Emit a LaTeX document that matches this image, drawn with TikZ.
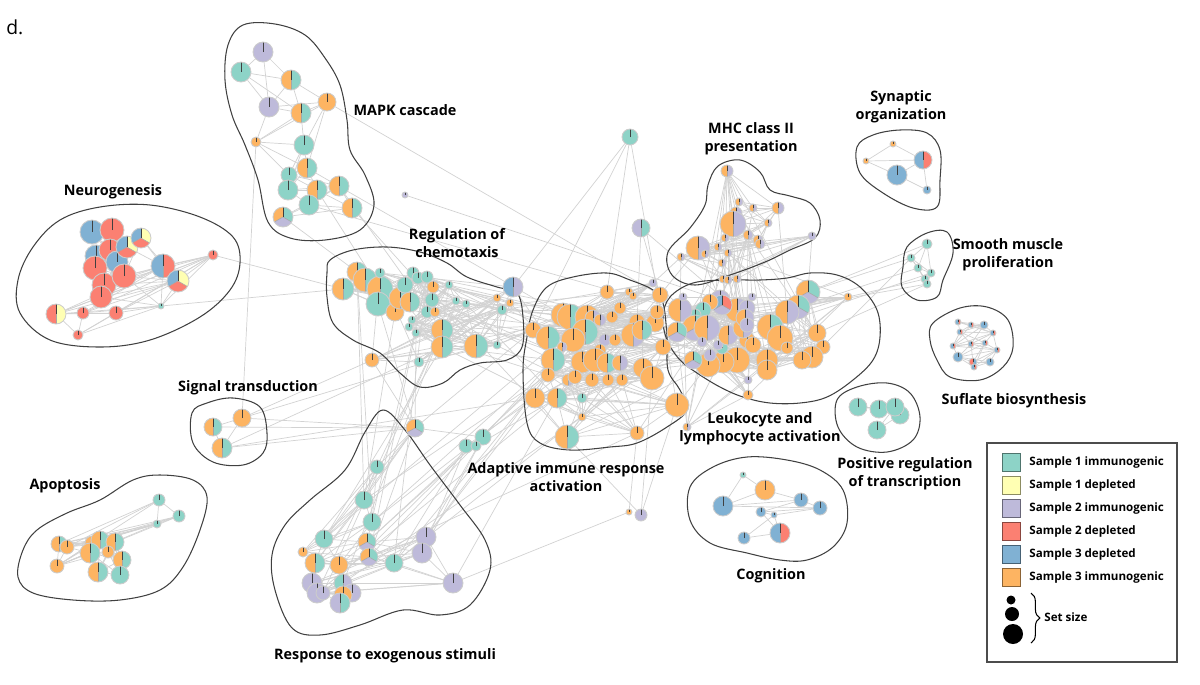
\documentclass[tikz,border=0pt]{standalone}
\usepackage{fontspec}
\setmainfont{Open Sans}
\usetikzlibrary{positioning, backgrounds, decorations.pathreplacing}
\definecolor{ct}{HTML}{8DD3C7}
\definecolor{cy}{HTML}{FFFFB3}
\definecolor{cl}{HTML}{BEBADA}
\definecolor{cr}{HTML}{FB8072}
\definecolor{cb}{HTML}{80B1D3}
\definecolor{co}{HTML}{FDB462}
\tikzstyle{pieshape} = [circle, inner sep=0pt, draw=none]
\tikzstyle{rim} = [draw=gray!40, line width=0.5pt]
\tikzstyle{tick} = [draw=black!75, line width=0.4pt]
\tikzstyle{divider} = [draw=gray!70, line width=0.3pt]
\tikzstyle{link} = [draw=gray!35, line width=0.4pt]
\tikzstyle{cluster} = [draw=black!75, line width=0.6pt]
\tikzstyle{tag} = [
	font=\bfseries\fontsize{8.2}{10.2}\selectfont,
	align=center,
	inner sep=0pt
]
\tikzstyle{legtext} = [font=\bfseries\fontsize{6.6}{8}\selectfont, inner sep=0pt]
\tikzstyle{swatch} = [rectangle, minimum size=0.36cm, inner sep=0pt]
\tikzstyle{dot} = [circle, fill=black, inner sep=0pt]

\def\nocol{x}
% pie chart node: name, x, y, radius (px), up to three colours (x = unused)
\newcommand{\pienode}[7]{%
	\pgfmathsetlengthmacro\pr{#4*0.02cm}%
	\node[pieshape, minimum size=2*\pr] (#1) at (#2,#3) {};
	\edef\pieb{#6}\edef\piec{#7}%
	\ifx\pieb\nocol
		\fill[fill=#5] (#1.center) circle[radius=\pr];
	\else
		\ifx\piec\nocol
			\fill[fill=#5] (#1.center) -- ++(90:\pr) arc[start angle=90, end angle=270, radius=\pr] -- cycle;
			\fill[fill=#6] (#1.center) -- ++(270:\pr) arc[start angle=-90, end angle=90, radius=\pr] -- cycle;
			\draw[divider] (#1.center) -- ++(270:\pr);
		\else
			\fill[fill=#5] (#1.center) -- ++(90:\pr) arc[start angle=90, end angle=210, radius=\pr] -- cycle;
			\fill[fill=#6] (#1.center) -- ++(210:\pr) arc[start angle=210, end angle=330, radius=\pr] -- cycle;
			\fill[fill=#7] (#1.center) -- ++(330:\pr) arc[start angle=330, end angle=450, radius=\pr] -- cycle;
			\draw[divider] (#1.center) -- ++(210:\pr) (#1.center) -- ++(330:\pr);
		\fi
	\fi
	\draw[tick] (#1.center) -- ++(90:\pr);
	\draw[rim] (#1.center) circle[radius=\pr];
}
% links inside one cluster: node i to nodes i+1 .. i+k
\newcommand{\meshlinks}[3]{%
	\foreach \i in {1,...,#2}{%
		\foreach \k in {1,...,#3}{%
			\pgfmathtruncatemacro\jj{\i+\k}%
			\ifnum\jj>#2\relax\else\draw[link] (#1\i) -- (#1\jj);\fi
		}}}
% links between two clusters
\newcommand{\bundlelinks}[5]{%
	\foreach \i in {1,...,#5}{%
		\pgfmathtruncatemacro\ua{mod(\i*7,#2)+1}%
		\pgfmathtruncatemacro\vb{mod(\i*11,#4)+1}%
		\draw[link] (#1\ua) -- (#3\vb);}}

\begin{document}
\begin{tikzpicture}[x=0.02cm, y=-0.02cm]

	\useasboundingbox (0,0) rectangle (1200,684);

	% cluster outlines
	\draw[cluster] plot[smooth cycle, tension=0.6] coordinates {(243,25) (275,24) (305,35) (325,58) (340,85) (347,120) (350,150) (365,175) (374,205) (360,230) (325,240) (290,238) (268,222) (258,180) (245,145) (232,115) (225,80) (228,45)};
	\draw[cluster] plot[smooth cycle, tension=0.6] coordinates {(100,207) (150,205) (200,217) (233,237) (240,263) (230,290) (200,317) (150,340) (100,347) (50,340) (20,313) (18,280) (33,247) (60,220)};
	\draw[cluster] plot[smooth cycle, tension=0.6] coordinates {(330,260) (353,250) (387,247) (420,252) (447,263) (467,277) (497,287) (517,293) (523,317) (522,347) (507,360) (480,363) (460,370) (443,383) (420,387) (400,373) (380,353) (353,340) (333,323) (327,297) (327,273)};
	\draw[cluster] plot[smooth cycle, tension=0.6] coordinates {(533,310) (547,287) (573,277) (607,273) (630,280) (653,290) (663,303) (667,337) (668,370) (680,390) (687,410) (667,427) (637,443) (610,447) (570,450) (540,443) (527,423) (523,370) (527,337)};
	\draw[cluster] plot[smooth cycle, tension=0.6] coordinates {(708,185) (718,166) (740,160) (760,172) (770,190) (790,196) (810,203) (820,220) (815,238) (790,250) (765,262) (730,275) (695,285) (672,275) (668,252) (690,228) (705,205)};
	\draw[cluster] plot[smooth cycle, tension=0.6] coordinates {(670,297) (693,283) (727,280) (760,280) (787,278) (810,273) (837,275) (860,287) (877,310) (880,337) (873,360) (853,380) (827,397) (800,403) (770,403) (743,397) (720,387) (697,373) (680,360) (667,340) (663,317)};
	\draw[cluster] plot[smooth cycle, tension=0.6] coordinates {(857,147) (873,135) (900,130) (927,133) (940,150) (940,180) (937,207) (913,208) (883,193) (860,173)};
	\draw[cluster] plot[smooth cycle, tension=0.6] coordinates {(903,267) (907,247) (927,233) (947,232) (953,253) (943,280) (937,297) (917,300) (902,287)};
	\draw[cluster] plot[smooth cycle, tension=0.6] coordinates {(933,323) (960,308) (987,307) (1008,320) (1013,347) (1003,367) (980,380) (950,377) (937,360) (930,340)};
	\draw[cluster] plot[smooth cycle, tension=0.6] coordinates {(837,400) (857,387) (887,383) (910,393) (920,417) (913,440) (887,452) (857,447) (838,427)};
	\draw[cluster] plot[smooth cycle, tension=0.6] coordinates {(690,487) (713,467) (747,457) (787,460) (820,470) (843,490) (847,523) (833,547) (807,560) (780,560) (747,553) (710,543) (690,520)};
	\draw[cluster] plot[smooth cycle, tension=0.6] coordinates {(192,413) (207,403) (233,398) (260,407) (267,433) (263,453) (243,465) (213,462) (193,443)};
	\draw[cluster] plot[smooth cycle, tension=0.6] coordinates {(23,550) (37,530) (67,513) (100,500) (133,480) (160,475) (193,480) (207,497) (200,530) (183,567) (160,590) (120,600) (73,600) (33,593) (18,577)};
	\draw[cluster] plot[smooth cycle, tension=0.6] coordinates {(383,410) (405,430) (430,465) (460,505) (485,540) (490,570) (470,605) (440,615) (403,610) (360,625) (320,635) (292,628) (275,590) (272,555) (285,525) (310,500) (345,470) (365,432)};

	% MAPK cascade
	\foreach \n/\x/\y/\rad/\fa/\fb/\fc in {
		mk1/263/52/10/cl/x/x, mk2/241/72/10/ct/x/x, mk3/291/80/10/co/ct/x, mk4/269/107/10/cl/x/x,
		mk5/301/113/10/co/ct/x, mk6/327/102/9/co/x/x, mk7/256/142/5/co/x/x, mk8/304/145/10/ct/x/x,
		mk9/307/168/10/co/ct/x, mk10/289/175/8/ct/x/x, mk11/288/190/10/ct/x/x, mk12/317/190/10/co/ct/x,
		mk13/339/186/10/co/ct/x, mk14/309/205/10/ct/x/x, mk15/352/208/10/co/ct/x, mk16/283/217/10/co/cl/ct}
		{\pienode{\n}{\x}{\y}{\rad}{\fa}{\fb}{\fc}}

	% Neurogenesis
	\foreach \n/\x/\y/\rad/\fa/\fb/\fc in {
		ng1/92/232/12/cb/x/x, ng2/112/230/12/cr/x/x, ng3/96/256/11/cb/x/x, ng4/110/250/11/cr/x/x,
		ng5/95/268/12/cr/x/x, ng6/117/262/11/cb/x/x, ng7/127/247/11/cb/cr/cy, ng8/141/238/10/cb/cr/cy,
		ng9/104/285/12/cr/x/x, ng10/124/276/12/cr/x/x, ng11/101/297/11/cr/x/x, ng12/163/266/12/cb/cr/x,
		ng13/178/281/11/cb/cr/cy, ng14/213/255/5/cr/x/x, ng15/161/306/3/ct/x/x, ng16/56/314/10/cr/cy/x,
		ng17/83/313/6/cr/x/x, ng18/116/313/7/cr/x/x, ng19/78/335/5/cr/x/x}
		{\pienode{\n}{\x}{\y}{\rad}{\fa}{\fb}{\fc}}

	% Regulation of chemotaxis
	\foreach \n/\x/\y/\rad/\fa/\fb/\fc in {
		ch1/357/272/10/co/ct/x, ch2/365/280/12/co/ct/x, ch3/343/289/11/co/ct/x, ch4/380/289/13/co/ct/x,
		ch5/378/304/12/ct/x/x, ch6/395/312/9/co/x/x, ch7/400/298/11/co/ct/x, ch8/410/302/10/co/ct/x,
		ch9/405/285/8/ct/x/x, ch10/413/273/6/ct/x/x, ch11/418/278/6/ct/x/x, ch12/427/277/6/ct/x/x,
		ch13/433/287/6/co/x/x, ch14/432/300/7/ct/x/x, ch15/427/312/6/ct/x/x, ch16/435/312/5/co/x/x,
		ch17/449/285/4/ct/x/x, ch18/456/301/4/ct/x/x, ch19/466/304/4/ct/x/x, ch20/412/320/4/ct/x/x,
		ch21/409/327/4/ct/x/x, ch22/416/333/4/ct/x/x, ch23/442/330/11/co/ct/x, ch24/442/347/11/co/ct/x,
		ch25/476/346/12/co/ct/x, ch26/497/345/4/ct/x/x, ch27/497/298/4/co/x/x, ch28/502/310/5/ct/x/x,
		ch29/510/303/4/co/x/x, ch30/380/273/5/ct/x/x, ch31/372/360/7/co/x/x, ch32/419/362/5/ct/x/x,
		ch33/513/287/10/cb/cl/x}
		{\pienode{\n}{\x}{\y}{\rad}{\fa}{\fb}{\fc}}

	% Adaptive immune response activation
	\foreach \n/\x/\y/\rad/\fa/\fb/\fc in {
		ad1/607/292/7/co/x/x, ad2/629/292/4/co/x/x, ad3/633/296/4/co/x/x, ad4/653/283/4/cl/x/x,
		ad5/660/295/8/co/x/x, ad6/563/315/12/co/x/x, ad7/570/317/13/co/ct/x, ad8/587/317/12/co/x/x,
		ad9/593/318/8/co/cl/x, ad10/600/320/6/co/cl/x, ad11/612/317/6/co/x/x, ad12/620/308/6/co/x/x,
		ad13/637/322/8/co/x/x, ad14/655/323/9/co/x/x, ad15/657/312/7/co/x/x, ad16/533/330/8/co/x/x,
		ad17/548/338/12/co/ct/x, ad18/585/332/13/co/ct/x, ad19/573/340/12/co/x/x, ad20/562/347/5/co/cl/x,
		ad21/605/340/6/cl/x/x, ad22/615/340/6/co/x/x, ad23/633/335/12/co/cl/x, ad24/642/330/10/co/ct/x,
		ad25/600/350/6/co/x/x, ad26/663/347/8/co/x/x, ad27/553/360/12/co/ct/x, ad28/582/362/11/co/x/x,
		ad29/595/360/12/co/x/x, ad30/607/363/10/co/ct/x, ad31/620/363/8/co/cl/x, ad32/643/368/10/co/x/x,
		ad33/652/378/12/co/x/x, ad34/548/375/7/co/x/x, ad35/568/380/6/co/cl/x, ad36/575/377/7/co/x/x,
		ad37/592/380/7/co/x/x, ad38/608/380/6/co/x/x, ad39/622/380/6/co/x/x, ad40/535/398/10/co/x/x,
		ad41/557/398/10/co/ct/x, ad42/582/398/5/ct/x/x, ad43/582/417/4/co/x/x, ad44/677/405/12/co/x/x,
		ad45/637/433/7/co/x/x, ad46/567/437/12/co/ct/x}
		{\pienode{\n}{\x}{\y}{\rad}{\fa}{\fb}{\fc}}

	% Leukocyte and lymphocyte activation
	\foreach \n/\x/\y/\rad/\fa/\fb/\fc in {
		lk1/808/292/12/co/cl/ct, lk2/798/307/12/co/cl/ct, lk3/787/312/12/co/cl/x, lk4/770/327/13/co/ct/x,
		lk5/780/338/13/co/x/x, lk6/817/333/9/co/x/x, lk7/823/347/7/co/x/x, lk8/812/357/11/co/x/x,
		lk9/802/360/9/co/x/x, lk10/787/348/6/co/x/x, lk11/767/360/11/co/x/x, lk12/767/370/10/co/x/x,
		lk13/737/360/13/co/x/x, lk14/723/362/11/co/x/x, lk15/708/365/12/co/x/x, lk16/693/360/9/co/cl/ct,
		lk17/710/355/6/cl/x/x, lk18/722/348/6/ct/x/x, lk19/718/345/5/cl/x/x, lk20/728/335/10/co/cl/x,
		lk21/747/340/8/co/x/x, lk22/753/345/8/co/x/x, lk23/743/328/10/co/cl/x, lk24/737/310/12/co/cl/x,
		lk25/747/308/8/cl/x/x, lk26/745/318/9/co/cl/x, lk27/747/325/7/cl/x/x, lk28/720/300/10/cl/x/x,
		lk29/722/305/10/cb/cl/cr, lk30/710/302/8/co/x/x, lk31/703/310/8/ct/x/x, lk32/695/315/6/ct/x/x,
		lk33/680/310/12/co/cl/x, lk34/695/328/13/co/cl/ct, lk35/707/328/13/co/cl/x, lk36/677/332/10/co/cl/ct,
		lk37/702/342/5/cl/x/x, lk38/752/297/4/cl/x/x, lk39/848/297/4/co/x/x, lk40/748/380/4/cl/x/x,
		lk41/748/395/5/co/x/x, lk42/683/297/4/cl/x/x, lk43/687/427/4/co/cl/x}
		{\pienode{\n}{\x}{\y}{\rad}{\fa}{\fb}{\fc}}

	% MHC class II presentation
	\foreach \n/\x/\y/\rad/\fa/\fb/\fc in {
		mh1/727/171/6/co/cl/x, mh2/739/202/4/co/cl/x, mh3/753/208/4/co/cl/x, mh4/778/208/6/co/cl/x,
		mh5/736/213/6/co/cl/x, mh6/733/224/13/co/cl/x, mh7/768/223/4/co/cl/x, mh8/748/235/5/co/cl/x,
		mh9/758/240/5/co/cl/x, mh10/760/244/5/co/cl/x, mh11/725/238/4/co/cl/x, mh12/718/247/4/co/cl/x,
		mh13/698/248/12/co/cl/x, mh14/705/254/4/co/cl/x, mh15/728/253/4/co/cl/x, mh16/722/263/4/co/cl/x,
		mh17/681/257/4/co/cl/x, mh18/812/236/4/cl/x/x, mh19/723/279/4/co/cl/x, mh20/728/280/4/co/cl/x,
		mh21/737/279/4/co/cl/x}
		{\pienode{\n}{\x}{\y}{\rad}{\fa}{\fb}{\fc}}

	% small clusters on the right
	\foreach \n/\x/\y/\rad/\fa/\fb/\fc in {
		sy1/893/144/3/co/x/x, sy2/866/161/3/co/x/x, sy3/923/160/9/cb/cr/x, sy4/897/175/10/cb/x/x, sy5/927/190/4/cb/x/x,
		sm1/927/244/5/ct/x/x, sm2/911/258/4/ct/x/x, sm3/918/268/4/ct/x/x, sm4/931/273/4/ct/x/x, sm5/925/279/4/ct/x/x, sm6/927/284/4/ct/x/x,
		sf1/958/322/3/cb/cr/x, sf2/971/325/3/cb/cr/x, sf3/984/325/4/cb/x/x, sf4/960/332/3/cb/cr/x,
		sf5/993/333/3/cb/cr/x, sf6/953/346/3/cb/cr/x, sf7/971/344/3/cb/cr/x, sf8/985/343/3/cb/cr/x,
		sf9/997/350/3/cb/cr/x, sf10/958/357/5/cb/x/x, sf11/973/362/4/cr/cb/x, sf12/974/367/3/cb/cr/x, sf13/990/362/4/cb/x/x,
		pr1/858/407/9/ct/x/x, pr2/879/409/9/ct/x/x, pr4/900/415/9/ct/x/x, pr3/895/407/9/ct/x/x, pr5/877/430/9/ct/x/x,
		cg1/743/475/3/ct/x/x, cg2/765/490/10/co/x/x, cg3/723/506/10/cb/x/x, cg4/801/500/7/cb/x/x, cg5/820/508/7/cb/x/x,
		cg6/761/512/5/cb/x/x, cg7/774/515/3/cb/x/x, cg8/780/533/10/cb/cr/x, cg9/744/538/6/cb/x/x}
		{\pienode{\n}{\x}{\y}{\rad}{\fa}{\fb}{\fc}}

	% Signal transduction, Apoptosis
	\foreach \n/\x/\y/\rad/\fa/\fb/\fc in {
		sg1/213/427/9/co/ct/x, sg2/242/418/9/co/x/x, sg3/222/448/10/co/ct/x,
		ap1/159/500/6/ct/x/x, ap2/179/516/6/ct/x/x, ap3/157/524/4/ct/x/x, ap4/59/544/8/co/ct/x,
		ap5/67/547/7/co/x/x, ap6/57/566/7/co/x/x, ap7/92/543/7/co/x/x, ap8/100/540/9/co/ct/x,
		ap9/115/542/9/co/ct/x, ap10/90/553/10/co/ct/x, ap11/108/552/6/co/x/x, ap12/122/560/9/co/ct/x,
		ap13/98/572/10/co/ct/x, ap14/120/575/9/ct/x/x}
		{\pienode{\n}{\x}{\y}{\rad}{\fa}{\fb}{\fc}}

	% Response to exogenous stimuli
	\foreach \n/\x/\y/\rad/\fa/\fb/\fc in {
		rs1/377/467/7/ct/x/x, rs2/364/500/9/ct/x/x, rs3/372/522/9/ct/x/x, rs4/324/539/9/ct/x/x,
		rs5/303/552/5/co/x/x, rs6/315/563/10/co/ct/x, rs7/339/565/9/co/x/x, rs8/367/542/9/co/cl/ct,
		rs9/369/557/9/co/cl/ct, rs10/394/563/9/ct/x/x, rs11/426/537/10/cl/x/x, rs12/422/553/10/cl/x/x,
		rs13/453/583/10/cl/x/x, rs14/312/583/10/cl/x/x, rs15/317/593/10/cl/x/x, rs16/323/593/7/cl/x/x,
		rs17/343/583/9/ct/cl/x, rs18/352/593/9/cl/x/x, rs19/343/595/9/co/x/x, rs20/340/603/10/cl/ct/x}
		{\pienode{\n}{\x}{\y}{\rad}{\fa}{\fb}{\fc}}

	% nodes between clusters
	\foreach \n/\x/\y/\rad/\fa/\fb/\fc in {
		bx1/415/428/9/co/cl/ct, bx2/466/446/7/ct/x/x, bx3/483/437/8/ct/x/x, bx4/476/446/5/ct/x/x,
		bx5/630/137/8/ct/x/x, bx6/641/228/9/cl/ct/x, bx7/405/195/3/cl/x/x, bx8/629/512/3/co/x/x,
		bx9/641/515/6/cl/x/x}
		{\pienode{\n}{\x}{\y}{\rad}{\fa}{\fb}{\fc}}

	% links
	\begin{pgfonlayer}{background}
		\meshlinks{mk}{16}{3}
		\meshlinks{ng}{19}{5}
		\meshlinks{ch}{33}{6}
		\meshlinks{ad}{46}{8}
		\meshlinks{lk}{43}{8}
		\meshlinks{mh}{21}{5}
		\meshlinks{sy}{5}{2}
		\meshlinks{sm}{6}{3}
		\meshlinks{sf}{13}{4}
		\meshlinks{pr}{5}{2}
		\meshlinks{cg}{9}{2}
		\meshlinks{sg}{3}{2}
		\meshlinks{ap}{14}{5}
		\meshlinks{rs}{20}{4}
		\bundlelinks{ad}{46}{lk}{43}{30}
		\bundlelinks{ch}{33}{ad}{46}{25}
		\bundlelinks{mh}{21}{lk}{43}{25}
		\bundlelinks{rs}{20}{ad}{46}{10}
		\bundlelinks{rs}{20}{ch}{33}{8}
		\foreach \a/\b in {ng14/ch3, ng15/ch3, mk6/ad5, mk15/ch25, mk13/ch23, mk12/ch4, mk7/sg2,
			mk16/ch1, mk9/ad6, mk14/lk33, bx5/ad1, bx5/ad44, bx5/ch33, bx5/ad16, bx6/ad5, bx6/lk24,
			bx6/ad13, bx7/lk28, sg2/ch31, sg2/ad16, sg3/ad40, sg1/bx1, sg3/bx1, sg2/bx1, sg3/ch24,
			bx1/ch5, bx1/ch22, bx1/ad16, bx1/ch31, bx1/rs1, bx1/rs2, bx1/rs4, bx1/rs6, bx1/rs9, bx1/bx3,
			bx2/ad40, bx3/ad27, bx4/ad41, bx2/rs10, bx3/rs11, bx3/rs12, rs2/ch6, rs4/ch24, rs8/bx3,
			rs9/bx3, rs11/ad40, rs13/ad41, rs10/ad34, rs12/bx2, rs3/ad27, rs13/bx8, ad44/lk15,
			ad32/lk16, ad26/lk36, ad14/lk33, ad33/bx9, ad45/bx8, ad46/bx9, ad44/bx9, lk1/sm1, lk1/sm2,
			lk2/sm3, lk4/sm4, lk39/sm5, lk6/sm6, lk2/sm6, lk8/sm2, lk1/mh18, lk24/mh6, lk28/mh13,
			lk33/mh17, lk20/mh19, lk23/mh20, lk26/mh21, lk3/mh4, mh13/ad5, mh17/ad4, ch25/ad6,
			ch23/ad17, ch26/ad16, ch19/ad7, ch28/ad6, ch17/ad8, ch12/ad14, ch24/ad27}
			\draw[link] (\a) -- (\b);
	\end{pgfonlayer}

	% cluster names
	\node[anchor=north west, font=\fontsize{11}{13}\selectfont, inner sep=0pt] (panel) at (6,19) {d.};
	\node[tag] (tmapk) at (405,110) {MAPK cascade};
	\node[tag] (tneuro) at (113,192) {Neurogenesis};
	\node[tag] (tchemo) at (457,243) {Regulation of\\chemotaxis};
	\node[tag] (tmhc) at (751,139) {MHC class II\\presentation};
	\node[tag] (tsyn) at (901,107) {Synaptic\\organization};
	\node[tag] (tsmooth) at (1008,255) {Smooth muscle\\proliferation};
	\node[tag] (tsignal) at (248,388) {Signal transduction};
	\node[tag] (tsulf) at (1014,401) {Suflate biosynthesis};
	\node[tag] (tleuko) at (760,429) {Leukocyte and\\lymphocyte activation};
	\node[tag] (tadapt) at (566,477) {Adaptive immune response\\activation};
	\node[tag] (tposreg) at (905,474) {Positive regulation\\of transcription};
	\node[tag] (tapop) at (65,486) {Apoptosis};
	\node[tag] (tcogn) at (771,576) {Cognition};
	\node[tag] (tresp) at (385,656) {Response to exogenous stimuli};

	% legend
	\draw[line width=0.6pt, draw=black!70] (987,443) rectangle (1177,662);
	\foreach \i/\y/\col/\txt in {1/462/ct/Sample 1 immunogenic, 2/485/cy/Sample 1 depleted,
		3/508/cl/Sample 2 immunogenic, 4/531/cr/Sample 2 depleted,
		5/554/cb/Sample 3 depleted, 6/577/co/Sample 3 immunogenic}{
		\node[swatch, fill=\col, draw=\col!55!black] (sw\i) at (1011,\y) {};
		\node[legtext, right=5pt of sw\i] (lt\i) {\txt};
	}
	\node[dot, minimum size=0.18cm] (dsmall) at (1011,600) {};
	\node[dot, minimum size=0.28cm] (dmid) at (1012,614) {};
	\node[dot, minimum size=0.40cm] (dbig) at (1013,634) {};
	\coordinate (bracetop) at (1031,593);
	\coordinate (bracebot) at (1031,643);
	\draw[decorate, decoration={brace, amplitude=5pt}, line width=0.6pt] (bracetop) -- (bracebot);
	\node[legtext, anchor=west] (setsize) at (1044,617) {Set size};

\end{tikzpicture}
\end{document}
